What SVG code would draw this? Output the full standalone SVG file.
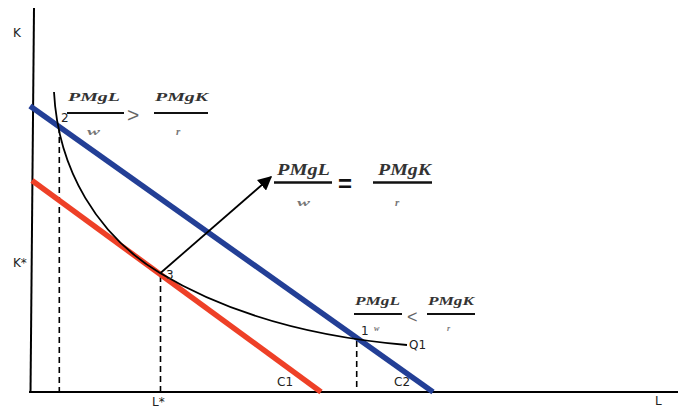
<svg xmlns="http://www.w3.org/2000/svg" width="678" height="409" viewBox="0 0 678 409">
<defs>
<marker id="arrow" viewBox="0 0 10 10" refX="9" refY="5" markerWidth="14" markerHeight="14" markerUnits="userSpaceOnUse" orient="auto">
<path d="M0,0 L10,5 L0,10 Z" fill="#000"/>
</marker>
</defs>
<style>
.lbl{font-family:"DejaVu Sans",sans-serif;font-size:12px;fill:#222}
.num{font-family:"Liberation Serif",serif;font-style:italic;font-weight:bold;fill:#333}
.den{font-family:"Liberation Serif",serif;font-style:italic;font-weight:bold;fill:#777}
.bar{stroke:#111;fill:none}
.dash{stroke:#000;stroke-width:1.6;stroke-dasharray:6,4;fill:none}
.axis{stroke:#000;stroke-width:2;fill:none}
</style>
<rect width="678" height="409" fill="#fff"/>
<g id="axes">
<line class="axis" x1="34" y1="8" x2="30.5" y2="393"/>
<line class="axis" x1="29" y1="392" x2="678" y2="392"/>
<text class="lbl" x="13" y="37">K</text>
<text class="lbl" x="13" y="267">K*</text>
<text class="lbl" x="152" y="406">L*</text>
<text class="lbl" x="655" y="405">L</text>
</g>
<g id="guides">
<line class="dash" x1="59.3" y1="127" x2="59.3" y2="391"/>
<line class="dash" x1="160.5" y1="276" x2="160.5" y2="391"/>
<line class="dash" x1="356.7" y1="341" x2="356.7" y2="391"/>
</g>
<g id="budget-lines">
<g id="C1">
<line x1="32" y1="180.5" x2="321" y2="392" stroke="#ee4027" stroke-width="5.5"/>
<text class="lbl" x="277" y="386">C1</text>
</g>
<g id="C2">
<line x1="30" y1="106" x2="433" y2="392" stroke="#233f96" stroke-width="5.5"/>
<text class="lbl" x="394" y="386">C2</text>
</g>
</g>
<g id="Q1">
<path d="M54,92 C58,170 98,236 160,273 C220,309 300,336 407,345" fill="none" stroke="#000" stroke-width="1.8"/>
<text class="lbl" x="409" y="349">Q1</text>
</g>
<g id="connectors">
<line x1="160.5" y1="273" x2="271" y2="177" stroke="#000" stroke-width="1.8" marker-end="url(#arrow)"/>
</g>
<g id="point-2">
<text class="lbl" x="61" y="122">2</text>
<text class="num" x="68" y="101" font-size="13" textLength="52" lengthAdjust="spacingAndGlyphs">PMgL</text>
<line class="bar" x1="67" y1="113" x2="124" y2="113" stroke-width="2"/>
<text class="den" x="87" y="135" font-size="11" textLength="13" lengthAdjust="spacingAndGlyphs">w</text>
<text x="127" y="122" font-family="Liberation Sans, sans-serif" font-size="21" fill="#666">&gt;</text>
<text class="num" x="155" y="101" font-size="13" textLength="53" lengthAdjust="spacingAndGlyphs">PMgK</text>
<line class="bar" x1="154" y1="113" x2="208" y2="113" stroke-width="2"/>
<text class="den" x="176" y="135" font-size="11">r</text>
</g>
<g id="point-3">
<text class="lbl" x="166" y="279">3</text>
<text class="num" x="277" y="175" font-size="16" textLength="53" lengthAdjust="spacingAndGlyphs">PMgL</text>
<line class="bar" x1="274" y1="182.5" x2="332" y2="182.5" stroke-width="2.5"/>
<text class="den" x="297" y="206" font-size="11" textLength="13" lengthAdjust="spacingAndGlyphs">w</text>
<text x="338" y="192" font-family="Liberation Sans, sans-serif" font-weight="bold" font-size="24" fill="#111">=</text>
<text class="num" x="378" y="175" font-size="16" textLength="53" lengthAdjust="spacingAndGlyphs">PMgK</text>
<line class="bar" x1="373" y1="182.5" x2="432" y2="182.5" stroke-width="2.5"/>
<text class="den" x="395" y="206" font-size="11">r</text>
</g>
<g id="point-1">
<text class="lbl" x="361" y="335">1</text>
<text class="num" x="355" y="305" font-size="12" textLength="45" lengthAdjust="spacingAndGlyphs">PMgL</text>
<line class="bar" x1="354" y1="314" x2="402" y2="314" stroke-width="2"/>
<text class="den" x="374" y="331" font-size="8">w</text>
<text x="407" y="323" font-family="Liberation Sans, sans-serif" font-size="18" fill="#666">&lt;</text>
<text class="num" x="428" y="305" font-size="12" textLength="46" lengthAdjust="spacingAndGlyphs">PMgK</text>
<line class="bar" x1="427" y1="314" x2="475" y2="314" stroke-width="2"/>
<text class="den" x="447" y="331" font-size="8">r</text>
</g>
</svg>
